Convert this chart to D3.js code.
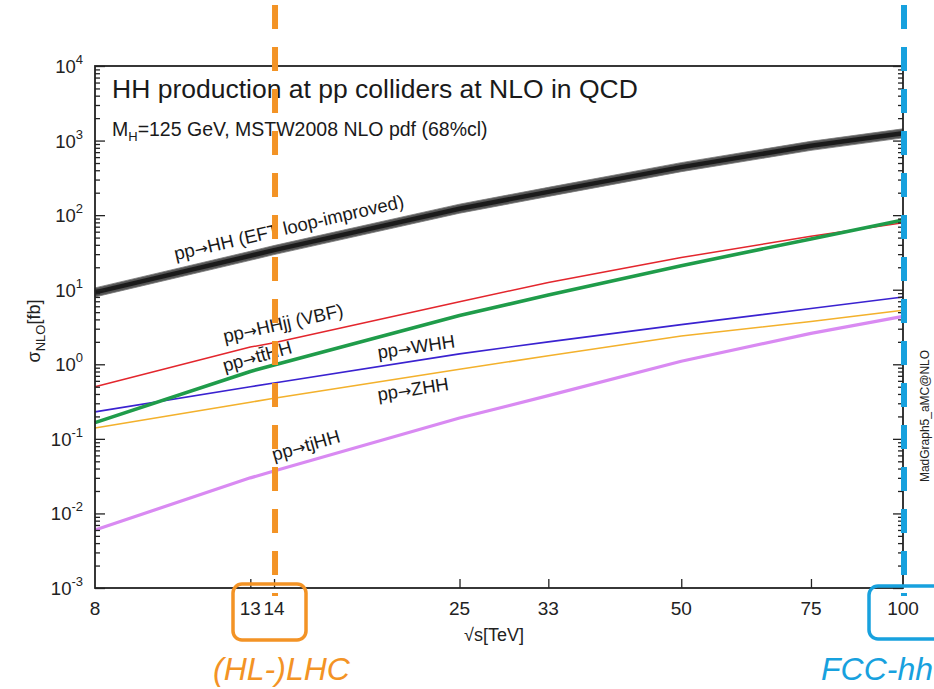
<!DOCTYPE html>
<html>
<head>
<meta charset="utf-8">
<script src="https://cdn.jsdelivr.net/npm/d3@7"></script>
<style>
  body { margin: 0; background: #fff; }
  svg { display: block; }
  text { font-family: "Liberation Sans", Arial, Helvetica, sans-serif; }
</style>
</head>
<body>
<svg id="chart" width="934" height="689"></svg>
<script>
// Centre-of-mass energies (TeV) at which the cross sections are evaluated
const energies = [8, 13, 14, 25, 33, 50, 75, 100];

// NLO cross sections (fb)
const xsHH   = [9.2, 28.5, 34, 122, 205, 440, 850, 1250];
const xsHHjj = [0.50, 1.7, 1.95, 6.9, 12.5, 27, 52, 79];
const xsttHH = [0.165, 0.80, 0.98, 4.5, 8.5, 21, 48, 86];
const xsWHH  = [0.23, 0.50, 0.56, 1.38, 2.0, 3.4, 5.6, 8.0];
const xsZHH  = [0.14, 0.31, 0.35, 0.86, 1.3, 2.4, 3.75, 5.3];
const xstjHH = [0.006, 0.030, 0.037, 0.19, 0.38, 1.1, 2.6, 4.4];

// Axis ticks
const xTickValues = [8, 13, 14, 25, 33, 50, 75, 100];
const xTickLabels = ["8", "13", "14", "25", "33", "50", "75", "100"];
const yDecades = [-3, -2, -1, 0, 1, 2, 3, 4];

const svg = d3.select("#chart");
const plotL = 95, plotR = 903, plotT = 66, plotB = 588;

const x = d3.scaleLog().domain([8, 100]).range([plotL, plotR]);
const y = d3.scaleLog().domain([1e-3, 1e4]).range([plotB, plotT]);

const majors = yDecades.map(d => Math.pow(10, d));
const minors = [];
yDecades.slice(0, -1).forEach(d => {
  for (let m = 2; m <= 9; m++) minors.push(m * Math.pow(10, d));
});

// ---- curves ----
const series = [
  { name: "tjHH", values: xstjHH, color: "#d98af2", width: 3.2 },
  { name: "ZHH",  values: xsZHH,  color: "#f3b12c", width: 1.6 },
  { name: "WHH",  values: xsWHH,  color: "#3a22d0", width: 1.6 },
  { name: "HHjj", values: xsHHjj, color: "#e3262d", width: 1.5 },
  { name: "ttHH", values: xsttHH, color: "#1f9c4a", width: 3.6 },
];

const line = d3.line().x(d => x(d.e)).y(d => y(d.v));
const pts = vals => energies.map((e, i) => ({ e, v: vals[i] }));

const plot = svg.append("g");

// HH band (scale uncertainty) + central line
const band = d3.area()
  .x(d => x(d.e))
  .y0(d => y(d.v / 1.15))
  .y1(d => y(d.v * 1.15));
plot.append("path").datum(pts(xsHH))
  .attr("d", band).attr("fill", "#555").attr("stroke", "#777").attr("stroke-width", 0.8);
plot.append("path").datum(pts(xsHH))
  .attr("d", line).attr("fill", "none").attr("stroke", "#1b1b1b").attr("stroke-width", 4.5);

series.forEach(s => {
  plot.append("path").datum(pts(s.values))
    .attr("d", line).attr("fill", "none")
    .attr("stroke", s.color).attr("stroke-width", s.width)
    .attr("stroke-linejoin", "round");
});

// ---- curve labels, placed along each curve ----
function interp(vals, e) {
  for (let i = 0; i < energies.length - 1; i++) {
    const e0 = energies[i], e1 = energies[i + 1];
    if (e >= e0 && e <= e1) {
      const t = Math.log(e / e0) / Math.log(e1 / e0);
      return Math.exp(Math.log(vals[i]) + t * Math.log(vals[i + 1] / vals[i]));
    }
  }
  return vals[vals.length - 1];
}
const curveLabels = [
  { vals: xsHH,   e: 10.3, dy: -13, process: "HH (EFT loop-improved)" },
  { vals: xsHHjj, e: 12.0, dy: -11, process: "HHjj (VBF)" },
  { vals: xsttHH, e: 12.0, dy: -8,  process: "tt\u0304HH" },
  { vals: xsWHH,  e: 19.4, dy: -8,  process: "WHH" },
  { vals: xsZHH,  e: 19.4, dy: 19,  process: "ZHH" },
  { vals: xstjHH, e: 14.0, dy: -10, process: "tjHH" },
];
curveLabels.forEach(l => {
  const px = x(l.e), py = y(interp(l.vals, l.e)) + l.dy;
  const e2 = l.e * 1.6;
  const ang = Math.atan2(y(interp(l.vals, e2)) - y(interp(l.vals, l.e)), x(e2) - x(l.e)) * 180 / Math.PI;
  const t = svg.append("text")
    .attr("transform", `translate(${px},${py}) rotate(${ang})`)
    .attr("font-size", 18.5).attr("fill", "#1a1a1a");
  t.append("tspan").text("pp");
  t.append("tspan").attr("font-family", "'DejaVu Sans', sans-serif").attr("font-size", 16).text("→");
  t.append("tspan").text(l.process);
});

// ---- frame and axes ----
svg.append("rect")
  .attr("x", plotL).attr("y", plotT)
  .attr("width", plotR - plotL).attr("height", plotB - plotT)
  .attr("fill", "none").attr("stroke", "#222").attr("stroke-width", 1.8);

function styleAxis(g) {
  g.select(".domain").remove();
  g.selectAll(".tick line").attr("stroke", "#222").attr("stroke-width", 1.3);
  g.selectAll(".tick text").remove();
}
svg.append("g").attr("transform", `translate(${plotL},0)`)
  .call(d3.axisLeft(y).tickValues(majors).tickSize(-10)).call(styleAxis);
svg.append("g").attr("transform", `translate(${plotL},0)`)
  .call(d3.axisLeft(y).tickValues(minors).tickSize(-5)).call(styleAxis);
svg.append("g").attr("transform", `translate(${plotR},0)`)
  .call(d3.axisRight(y).tickValues(majors).tickSize(-10)).call(styleAxis);
svg.append("g").attr("transform", `translate(${plotR},0)`)
  .call(d3.axisRight(y).tickValues(minors).tickSize(-5)).call(styleAxis);
svg.append("g").attr("transform", `translate(0,${plotB})`)
  .call(d3.axisBottom(x).tickValues(xTickValues.slice(1, -1)).tickSize(-9)).call(styleAxis);

// y tick labels: 10^n
yDecades.forEach(d => {
  const t = svg.append("text")
    .attr("x", plotL - 12).attr("y", y(Math.pow(10, d)) + 7)
    .attr("text-anchor", "end").attr("font-size", 18.5).attr("fill", "#222");
  t.append("tspan").text("10");
  t.append("tspan").attr("dy", -9).attr("font-size", 13).text(String(d));
});

// x tick labels
xTickValues.forEach((v, i) => {
  svg.append("text")
    .attr("x", x(v)).attr("y", plotB + 27)
    .attr("text-anchor", "middle").attr("font-size", 19).attr("fill", "#222")
    .text(xTickLabels[i]);
});

// axis titles
svg.append("text")
  .attr("x", 494).attr("y", 641)
  .attr("text-anchor", "middle").attr("font-size", 18).attr("fill", "#222")
  .text("√s[TeV]");

const yt = svg.append("text")
  .attr("transform", `translate(40,${(plotT + plotB) / 2 + 4}) rotate(-90)`)
  .attr("text-anchor", "middle").attr("font-size", 18).attr("fill", "#222");
yt.append("tspan").text("σ");
yt.append("tspan").attr("dy", 5).attr("font-size", 13).text("NLO");
yt.append("tspan").attr("dy", -5).text("[fb]");

// title block
svg.append("text").attr("x", 112).attr("y", 98)
  .attr("font-size", 26.5).attr("fill", "#1a1a1a")
  .text("HH production at pp colliders at NLO in QCD");
const sub = svg.append("text").attr("x", 112).attr("y", 136)
  .attr("font-size", 19.5).attr("fill", "#1a1a1a");
sub.append("tspan").text("M");
sub.append("tspan").attr("dy", 5).attr("font-size", 13).text("H");
sub.append("tspan").attr("dy", -5).text("=125 GeV, MSTW2008 NLO pdf (68%cl)");

// generator tag on the right
svg.append("text")
  .attr("transform", "translate(929,416) rotate(-90)")
  .attr("text-anchor", "middle")
  .attr("font-family", "'Liberation Mono', 'DejaVu Sans Mono', monospace")
  .attr("font-size", 12).attr("fill", "#222")
  .text("MadGraph5_aMC@NLO");

// ---- collider annotations ----
const lhcColor = "#f39325", fccColor = "#17a1de";
svg.append("line")
  .attr("x1", x(14) + 1).attr("x2", x(14) + 1).attr("y1", 5).attr("y2", 596)
  .attr("stroke", lhcColor).attr("stroke-width", 6).attr("stroke-dasharray", "24,18");
svg.append("line")
  .attr("x1", x(100) + 1).attr("x2", x(100) + 1).attr("y1", 5).attr("y2", 596)
  .attr("stroke", fccColor).attr("stroke-width", 6).attr("stroke-dasharray", "24,18");

svg.append("rect")
  .attr("x", 233).attr("y", 584).attr("width", 73).attr("height", 56).attr("rx", 9)
  .attr("fill", "none").attr("stroke", lhcColor).attr("stroke-width", 3.5);
svg.append("rect")
  .attr("x", 869).attr("y", 586).attr("width", 80).attr("height", 53).attr("rx", 9)
  .attr("fill", "none").attr("stroke", fccColor).attr("stroke-width", 3.5);

svg.append("text").attr("x", 213).attr("y", 680)
  .attr("font-family", "'Open Sans', sans-serif").attr("font-style", "italic")
  .attr("font-size", 32).attr("fill", lhcColor).text("(HL-)LHC");
svg.append("text").attr("x", 821).attr("y", 680)
  .attr("font-family", "'Open Sans', sans-serif").attr("font-style", "italic")
  .attr("font-size", 32).attr("fill", fccColor).text("FCC-hh");
</script>
</body>
</html>
